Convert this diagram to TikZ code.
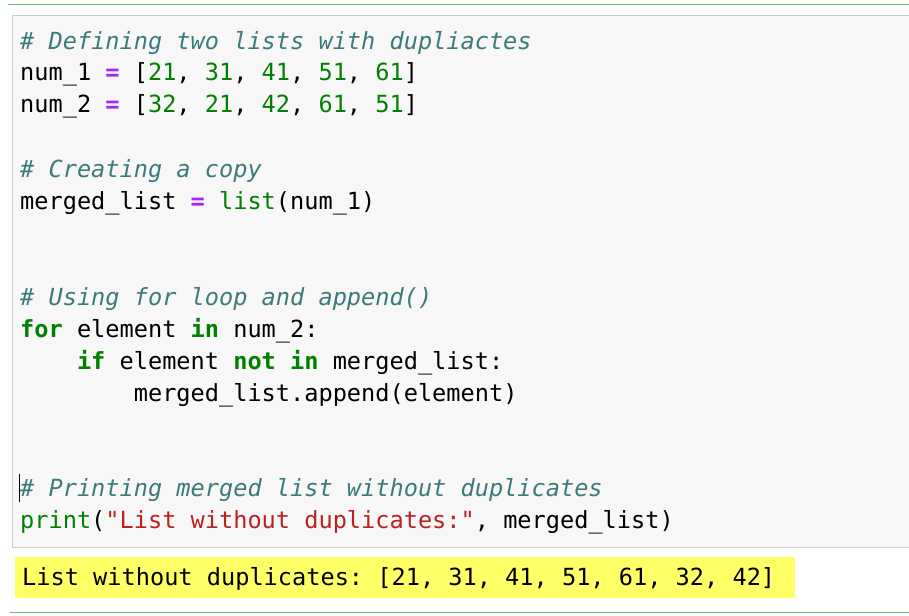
\documentclass[tikz,border=0pt]{standalone}
\usepackage{fontspec}
\setmonofont{DejaVu Sans Mono}
\definecolor{cm}{HTML}{3D7B7B}
\definecolor{kw}{HTML}{008000}
\definecolor{op}{HTML}{AA22FF}
\definecolor{st}{HTML}{BA2121}
\definecolor{gl}{HTML}{66C266}
\definecolor{yl}{HTML}{FFFF66}
\tikzset{code/.style={anchor=base west,inner sep=0pt,font=\ttfamily\fontsize{23.6}{28}\selectfont}}
\newcommand{\cmt}[1]{\textcolor{cm}{\itshape #1}}
\newcommand{\kwd}[1]{\textcolor{kw}{\bfseries #1}}
\newcommand{\grn}[1]{\textcolor{kw}{#1}}
\newcommand{\opr}[1]{\textcolor{op}{\bfseries #1}}
\begin{document}
\begin{tikzpicture}[x=1pt,y=-1pt]
\useasboundingbox (0,0) rectangle (909,615);
\draw[gl] (8,4) -- (909,4);
\draw[gl] (10,612) -- (909,612);
\draw[draw=black!20,fill=black!3] (12,15) rectangle (915,547);
\fill[yl] (15,557) rectangle (795,598);
\node[code] (l1) at (20,50) {\cmt{\# Defining two lists with dupliactes}};
\node[code] (l2) at (20,81) {num\_1 \opr{=} [\grn{21}, \grn{31}, \grn{41}, \grn{51}, \grn{61}]};
\node[code] (l3) at (20,113) {num\_2 \opr{=} [\grn{32}, \grn{21}, \grn{42}, \grn{61}, \grn{51}]};
\node[code] (l4) at (20,177) {\cmt{\# Creating a copy}};
\node[code] (l5) at (20,209) {merged\_list \opr{=} \grn{list}(num\_1)};
\node[code] (l6) at (20,305) {\cmt{\# Using for loop and append()}};
\node[code] (l7) at (20,337) {\kwd{for} element \kwd{in} num\_2:};
\node[code] (l8) at (20,369) {\phantom{xxxx}\kwd{if} element \kwd{not} \kwd{in} merged\_list:};
\node[code] (l9) at (20,401) {\phantom{xxxxxxxx}merged\_list.append(element)};
\node[code] (l10) at (20,496) {\cmt{\# Printing merged list without duplicates}};
\node[code] (l11) at (20,528) {\grn{print}(\textcolor{st}{"List without duplicates:"}, merged\_list)};
\node[code] (out) at (22,585) {List without duplicates: [21, 31, 41, 51, 61, 32, 42]};
\draw[line width=1.2pt] (19.5,474) -- (19.5,502);
\end{tikzpicture}
\end{document}
